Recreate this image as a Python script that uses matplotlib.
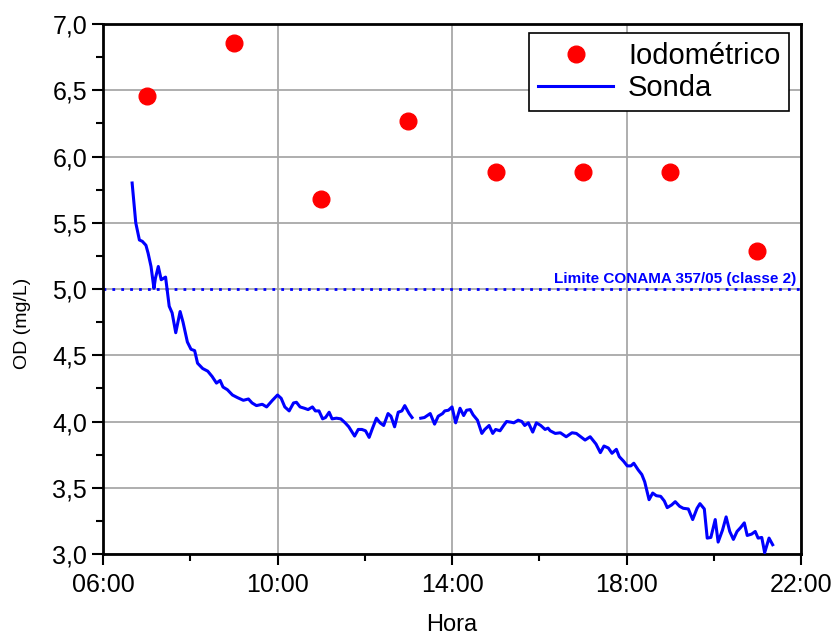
import numpy as np
import matplotlib.pyplot as plt
from matplotlib.ticker import MultipleLocator, FuncFormatter

plt.rcParams['font.family'] = ['Liberation Sans', 'DejaVu Sans']

# iodometric samples
iodo_hora = ['07:00', '09:00', '11:00', '13:00', '15:00', '17:00', '19:00', '21:00']
iodo_od = [6.46, 6.86, 5.68, 6.27, 5.88, 5.88, 5.88, 5.29]

# probe readings (nan = gap in record)
sonda_hora = [
    '06:40', '06:45', '06:50', '06:54', '06:59', '07:02', '07:06', '07:10', '07:12', '07:16',
    '07:20', '07:26', '07:31', '07:35', '07:40', '07:46', '07:50', '07:56', '08:01', '08:06',
    '08:10', '08:17', '08:24', '08:30', '08:36', '08:41', '08:45', '08:51', '08:58', '09:05',
    '09:13', '09:20', '09:25', '09:31', '09:39', '09:45', '09:53', '10:00', '10:05', '10:10',
    '10:16', '10:22', '10:26', '10:31', '10:37', '10:42', '10:48', '10:52', '10:57', '11:02',
    '11:06', '11:11', '11:15', '11:21', '11:27', '11:33', '11:38', '11:46', '11:51', '11:56',
    '12:01', '12:06', '12:10', '12:16', '12:21', '12:26', '12:32', '12:36', '12:41', '12:46',
    '12:51', '12:55', '13:01', '13:05', '13:11', '13:17', '13:22', '13:30', '13:36', '13:41',
    '13:47', '13:50', '13:55', '14:00', '14:05', '14:11', '14:16', '14:20', '14:25', '14:29',
    '14:35', '14:41', '14:45', '14:51', '14:56', '15:00', '15:06', '15:11', '15:15', '15:21',
    '15:25', '15:31', '15:36', '15:40', '15:45', '15:51', '15:56', '16:02', '16:08', '16:12',
    '16:15', '16:22', '16:29', '16:37', '16:45', '16:51', '16:57', '17:03', '17:10', '17:18',
    '17:24', '17:29', '17:35', '17:40', '17:46', '17:50', '17:56', '18:01', '18:06', '18:10',
    '18:16', '18:21', '18:25', '18:31', '18:36', '18:41', '18:47', '18:52', '18:56', '19:02',
    '19:07', '19:13', '19:18', '19:25', '19:31', '19:37', '19:41', '19:47', '19:51', '19:56',
    '20:02', '20:06', '20:12', '20:17', '20:22', '20:27', '20:32', '20:37', '20:42', '20:46',
    '20:52', '20:57', '21:01', '21:06', '21:10', '21:16', '21:21']
sonda_od = [
    5.80, 5.50, 5.37, 5.36, 5.33, 5.27, 5.17, 5.005, 5.08, 5.17,
    5.07, 5.09, 4.87, 4.82, 4.67, 4.83, 4.75, 4.60, 4.545, 4.535,
    4.44, 4.40, 4.38, 4.34, 4.29, 4.31, 4.26, 4.24, 4.20, 4.18,
    4.16, 4.17, 4.14, 4.12, 4.13, 4.11, 4.16, 4.20, 4.175, 4.11,
    4.08, 4.14, 4.145, 4.11, 4.10, 4.09, 4.11, 4.08, 4.08, 4.02,
    4.03, 4.07, 4.02, 4.025, 4.02, 3.99, 3.96, 3.89, 3.94, 3.94,
    3.93, 3.88, 3.94, 4.025, 3.99, 3.97, 4.06, 4.04, 3.96, 4.07,
    4.08, 4.12, 4.06, 4.03, np.nan, 4.025, 4.03, 4.06, 3.98, 4.04,
    4.06, 4.08, 4.085, 4.11, 3.99, 4.10, 4.045, 4.085, 4.09, 4.05,
    4.01, 3.91, 3.94, 3.97, 3.91, 3.94, 3.93, 3.97, 4.00, 3.995,
    3.99, 4.01, 4.00, 3.97, 3.99, 3.92, 3.99, 3.97, 3.94, 3.95,
    3.93, 3.91, 3.915, 3.885, 3.915, 3.91, 3.885, 3.86, 3.885, 3.83,
    3.765, 3.815, 3.80, 3.76, 3.79, 3.735, 3.70, 3.665, 3.665, 3.685,
    3.635, 3.60, 3.545, 3.41, 3.46, 3.44, 3.435, 3.40, 3.35, 3.37,
    3.395, 3.36, 3.345, 3.34, 3.26, 3.345, 3.38, 3.34, 3.12, 3.125,
    3.26, 3.09, 3.18, 3.28, 3.17, 3.11, 3.17, 3.20, 3.235, 3.14,
    3.15, 3.17, 3.12, 3.125, 3.01, 3.12, 3.07]

limite = 5.0
x_ticks = ['06:00', '10:00', '14:00', '18:00', '22:00']


def to_h(s):
    h, m = s.split(':')
    return int(h) + int(m) / 60.0


x_iodo = [to_h(s) for s in iodo_hora]
x_sonda = [to_h(s) for s in sonda_hora]

fig = plt.figure(figsize=(8.35, 6.37), dpi=100)
ax = fig.add_axes([0.1234, 0.1303, 0.8359, 0.832])

ax.grid(True, color='#a8a8a8', linewidth=1.3, zorder=0)
ax.axhline(limite, color='blue', linestyle=(0, (1, 2.2)), linewidth=2, zorder=2)
ax.text(21.9, limite + 0.02, 'Limite CONAMA 357/05 (classe 2)', color='blue',
        fontsize=11, fontweight='bold', ha='right', va='bottom')

ax.plot(x_iodo, iodo_od, 'o', color='red', markersize=12, label='Iodométrico', zorder=4)
ax.plot(x_sonda, sonda_od, '-', color='blue', linewidth=2.2, label='Sonda', zorder=3)

ax.set_xlim(6, 22)
ax.set_ylim(3.0, 7.0)
ax.set_xticks([to_h(s) for s in x_ticks])
ax.set_xticklabels(x_ticks)
ax.xaxis.set_minor_locator(MultipleLocator(2))
ax.yaxis.set_major_locator(MultipleLocator(0.5))
ax.yaxis.set_minor_locator(MultipleLocator(0.25))
ax.yaxis.set_major_formatter(FuncFormatter(lambda v, p: ('%.1f' % v).replace('.', ',')))
ax.tick_params(which='major', direction='out', length=8, width=1.5, labelsize=18)
ax.tick_params(which='minor', direction='out', length=5, width=1.5)
ax.tick_params(axis='x', which='major', pad=6)
for sp in ax.spines.values():
    sp.set_linewidth(2)

ax.set_xlabel('Hora', fontsize=17)
ax.set_ylabel('OD (mg/L)', fontsize=14)
ax.xaxis.set_label_coords(0.5, -0.113)
ax.yaxis.set_label_coords(-0.103, 0.436)

leg = ax.legend(loc='upper right', fontsize=21, frameon=True, fancybox=False,
                edgecolor='black', framealpha=1, handlelength=2.6,
                borderaxespad=0, borderpad=0.3, handletextpad=0.5, labelspacing=0.15,
                bbox_to_anchor=(0.983, 0.983))
leg.get_frame().set_linewidth(1.2)

fig.savefig('out.png', dpi=100)
